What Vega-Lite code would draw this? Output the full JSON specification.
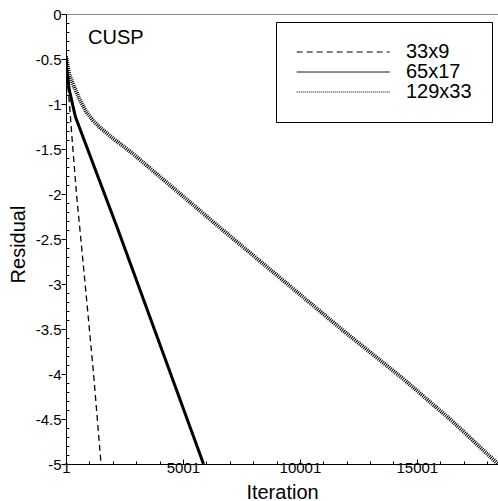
{
  "$schema": "https://vega.github.io/schema/vega-lite/v6.json",
  "width": 432,
  "height": 450,
  "autosize": {"type": "none"},
  "padding": {"left": 66, "top": 14, "right": 0, "bottom": 37},
  "background": "white",
  "config": {
    "view": {"stroke": null},
    "font": "Liberation Sans",
    "axis": {"domainColor": "black", "tickColor": "black", "labelColor": "black", "titleColor": "black", "labelFont": "Liberation Sans", "titleFont": "Liberation Sans", "titleFontWeight": "normal"}
  },
  "title": {"text": "CUSP", "anchor": "start", "frame": "group", "offset": -57, "dx": 22, "fontSize": 20, "fontWeight": "normal", "font": "Liberation Sans", "color": "black", "baseline": "alphabetic"},
  "data": {"values": [
    {"grid": "33x9", "iter": 1, "res": -0.47},
    {"grid": "33x9", "iter": 60, "res": -0.75},
    {"grid": "33x9", "iter": 150, "res": -1.0},
    {"grid": "33x9", "iter": 250, "res": -1.35},
    {"grid": "33x9", "iter": 450, "res": -2.0},
    {"grid": "33x9", "iter": 820, "res": -3.0},
    {"grid": "33x9", "iter": 1180, "res": -4.0},
    {"grid": "33x9", "iter": 1500, "res": -5.0},
    {"grid": "65x17", "iter": 1, "res": -0.47},
    {"grid": "65x17", "iter": 50, "res": -0.65},
    {"grid": "65x17", "iter": 140, "res": -0.84},
    {"grid": "65x17", "iter": 400, "res": -1.14},
    {"grid": "65x17", "iter": 1430, "res": -1.85},
    {"grid": "65x17", "iter": 2200, "res": -2.38},
    {"grid": "65x17", "iter": 4000, "res": -3.66},
    {"grid": "65x17", "iter": 5880, "res": -5.0},
    {"grid": "129x33", "iter": 1, "res": -0.47},
    {"grid": "129x33", "iter": 150, "res": -0.68},
    {"grid": "129x33", "iter": 283, "res": -0.77},
    {"grid": "129x33", "iter": 570, "res": -0.94},
    {"grid": "129x33", "iter": 850, "res": -1.08},
    {"grid": "129x33", "iter": 1140, "res": -1.18},
    {"grid": "129x33", "iter": 1450, "res": -1.26},
    {"grid": "129x33", "iter": 2000, "res": -1.38},
    {"grid": "129x33", "iter": 2850, "res": -1.55},
    {"grid": "129x33", "iter": 4300, "res": -1.87},
    {"grid": "129x33", "iter": 6700, "res": -2.4},
    {"grid": "129x33", "iter": 9560, "res": -3.02},
    {"grid": "129x33", "iter": 12000, "res": -3.55},
    {"grid": "129x33", "iter": 14400, "res": -4.05},
    {"grid": "129x33", "iter": 16500, "res": -4.52},
    {"grid": "129x33", "iter": 18470, "res": -5.0}
  ]},
  "encoding": {
    "x": {
      "field": "iter", "type": "quantitative",
      "scale": {"domain": [1, 18470], "nice": false, "zero": false},
      "axis": {
        "title": "Iteration", "titleFontSize": 20, "titleBaseline": "alphabetic", "titleY": 34,
        "values": [1, 1001, 2001, 3001, 4001, 5001, 6001, 7001, 8001, 9001, 10001, 11001, 12001, 13001, 14001, 15001, 16001, 17001, 18001],
        "labelExpr": "(datum.value - 1) % 5000 === 0 ? '' + datum.value : ''",
        "labelFontSize": 15, "labelOverlap": false, "labelFlush": false, "labelPadding": 1,
        "tickSize": {"condition": {"test": "(datum.value - 1) % 5000 === 0", "value": -5}, "value": -3},
        "grid": false
      }
    },
    "y": {
      "field": "res", "type": "quantitative",
      "scale": {"domain": [-5, 0], "nice": false, "zero": false},
      "axis": {
        "title": "Residual", "titleFontSize": 20, "titleAngle": -90, "titleX": -48, "titleY": 230, "titleAlign": "center", "titleBaseline": "middle",
        "values": [0, -0.1, -0.2, -0.3, -0.4, -0.5, -0.6, -0.7, -0.8, -0.9, -1, -1.1, -1.2, -1.3, -1.4, -1.5, -1.6, -1.7, -1.8, -1.9, -2, -2.1, -2.2, -2.3, -2.4, -2.5, -2.6, -2.7, -2.8, -2.9, -3, -3.1, -3.2, -3.3, -3.4, -3.5, -3.6, -3.7, -3.8, -3.9, -4, -4.1, -4.2, -4.3, -4.4, -4.5, -4.6, -4.7, -4.8, -4.9, -5],
        "labelExpr": "abs(datum.value * 2 - round(datum.value * 2)) < 0.001 ? '' + datum.value : ''",
        "labelFontSize": 15, "labelOverlap": false, "labelFlush": false, "labelPadding": 0,
        "tickSize": {"condition": {"test": "abs(datum.value * 2 - round(datum.value * 2)) < 0.001", "value": 5}, "value": -3},
        "grid": true, "gridColor": "#888888",
        "gridOpacity": {"condition": {"test": "datum.value === 0", "value": 1}, "value": 0}
      }
    },
    "strokeDash": {
      "field": "grid", "type": "nominal",
      "scale": {"domain": ["33x9", "65x17", "129x33"], "range": [[6, 4], [1, 0], [1, 1]]},
      "legend": {
        "orient": "none", "legendX": 210, "legendY": 8, "title": null,
        "padding": 20, "strokeColor": "black", "fillColor": "white",
        "symbolType": "M-1,0H9", "symbolSize": 346, "symbolStrokeWidth": 1, "symbolStrokeColor": "black",
        "labelFontSize": 20, "labelFont": "Liberation Sans", "labelColor": "black", "labelOffset": 90, "labelLimit": 300, "rowPadding": 0,
        "encode": {"symbols": {"update": {"strokeWidth": {"value": 1}, "stroke": {"value": "black"}, "opacity": {"value": 1}}}}
      }
    }
  },
  "layer": [
    {"transform": [{"filter": "datum.grid === '129x33'"}], "mark": {"type": "line", "color": "black", "strokeWidth": 4, "clip": true}},
    {"transform": [{"filter": "datum.grid === '65x17'"}], "mark": {"type": "line", "color": "black", "strokeWidth": 3, "clip": true}},
    {"transform": [{"filter": "datum.grid === '33x9'"}], "mark": {"type": "line", "color": "black", "strokeWidth": 1.3, "clip": true}}
  ]
}
